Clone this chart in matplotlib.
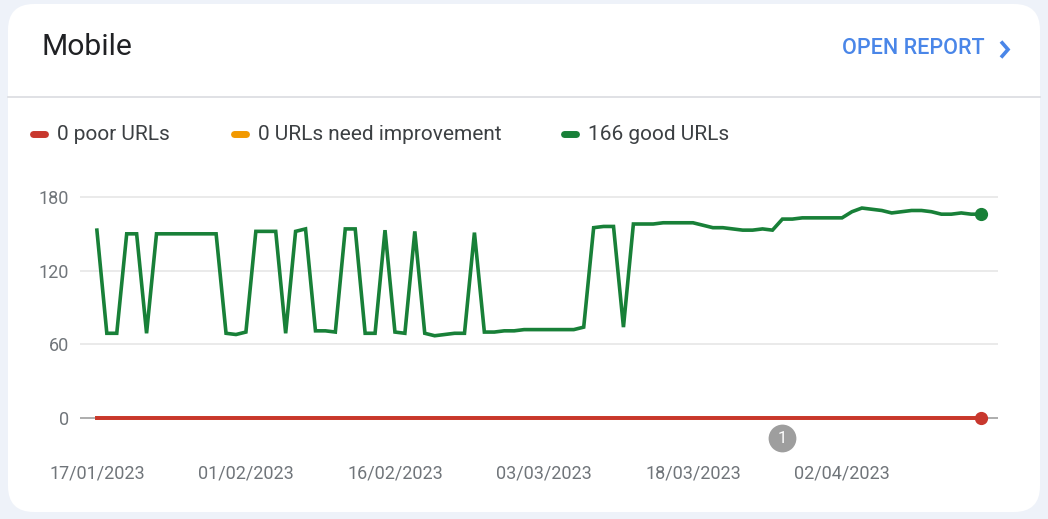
import matplotlib
matplotlib.use("Agg")
import matplotlib.pyplot as plt
import matplotlib.transforms as mtransforms
from matplotlib.patches import FancyBboxPatch
import pandas as pd

# Data (one value per day from 17/01/2023)
start_date = "2023-01-17"
good_urls = [153, 69, 69, 150, 150, 69, 150, 150, 150, 150,
             150, 150, 150, 69, 68, 70, 152, 152, 152, 69,
             152, 154, 71, 71, 70, 154, 154, 69, 69, 153,
             70, 69, 152, 69, 67, 68, 69, 69, 151, 70,
             70, 71, 71, 72, 72, 72, 72, 72, 72, 74,
             155, 156, 156, 74, 158, 158, 158, 159, 159, 159,
             159, 157, 155, 155, 154, 153, 153, 154, 153, 162,
             162, 163, 163, 163, 163, 163, 168, 171, 170, 169,
             167, 168, 169, 169, 168, 166, 166, 167, 166, 166]
poor_urls = [0] * len(good_urls)
need_improvement_urls = [0] * len(good_urls)
dates = pd.date_range(start_date, periods=len(good_urls), freq="D")

tick_dates = ["2023-01-17", "2023-02-01", "2023-02-16", "2023-03-03", "2023-03-18", "2023-04-02"]
tick_labels = ["17/01/2023", "01/02/2023", "16/02/2023", "03/03/2023", "18/03/2023", "02/04/2023"]
annotation_dates = ["2023-03-27"]
annotation_labels = ["1"]

legend_labels = ["0 poor URLs", "0 URLs need improvement", "166 good URLs"]

RED = "#c8372d"
ORANGE = "#f29900"
GREEN = "#188038"
BLUE = "#4a86e8"
GREY_TXT = "#70757a"

plt.rcParams["font.family"] = ["Roboto", "DejaVu Sans"]

W, H = 1048, 519
fig = plt.figure(figsize=(W / 100, H / 100), dpi=100)
fig.patch.set_facecolor("#eef2f9")

# background axes in pixel coordinates (card, header, legend)
bg = fig.add_axes([0, 0, 1, 1], zorder=0)
bg.set_xlim(0, W)
bg.set_ylim(H, 0)
bg.axis("off")
card = FancyBboxPatch((8, 4), 1032, 508, boxstyle="round,pad=0,rounding_size=26",
                      facecolor="white", edgecolor="none")
bg.add_patch(card)
bg.plot([8, 1040], [97, 97], color="#dadce0", lw=1.2)
bg.text(42, 47, "Mobile", fontsize=21.7, color="#202124", va="center", ha="left")
bg.text(842, 49, "OPEN REPORT", fontsize=15.5, color=BLUE, va="center", ha="left",
        fontweight="medium")
bg.plot([1001, 1008, 1001], [41.5, 49.5, 57.5], color=BLUE, lw=2.6,
        solid_joinstyle="miter", solid_capstyle="butt")

legend_x = [30, 231, 561]
legend_colors = [RED, ORANGE, GREEN]
for lx, lc, lt in zip(legend_x, legend_colors, legend_labels):
    bg.plot([lx + 3, lx + 15], [134, 134], color=lc, lw=5, solid_capstyle="round")
    bg.text(lx + 27, 134, lt, fontsize=15, color="#3c4043", va="center", ha="left")

# chart axes
left, right, top, bottom = 80, 998, 193.3, 421.7
ax = fig.add_axes([left / W, 1 - bottom / H, (right - left) / W, (bottom - top) / H], zorder=1)
ax.patch.set_alpha(0)
for s in ax.spines.values():
    s.set_visible(False)

x0 = pd.Timestamp(start_date)
ax.set_xlim(x0 - pd.Timedelta(days=1.7), x0 + pd.Timedelta(days=90.7))
ax.set_ylim(-3, 183)

for yv in [60, 120, 180]:
    ax.axhline(yv, color="#e6e6e6", lw=1.2, zorder=0)
ax.axhline(0, color="#a0a0a0", lw=1.2, zorder=0)

ax.plot(dates, need_improvement_urls, color=ORANGE, lw=2.8, zorder=2)
ax.plot(dates, poor_urls, color=RED, lw=2.8, zorder=3)
ax.plot(dates, good_urls, color=GREEN, lw=2.6, zorder=3, solid_joinstyle="miter")
ax.plot(dates[-1], good_urls[-1], "o", color=GREEN, ms=8.5, zorder=4, clip_on=False)
ax.plot(dates[-1], poor_urls[-1], "o", color=RED, ms=8.5, zorder=4, clip_on=False)

ann_trans = mtransforms.offset_copy(ax.transData, fig=fig, y=-20, units="dots")
for ad, al in zip(annotation_dates, annotation_labels):
    d = pd.Timestamp(ad)
    ax.plot(d, 0, "o", color="#9e9e9e", ms=20, mec="none", transform=ann_trans, clip_on=False)
    ax.text(d, 0, al, color="white", fontsize=12, ha="center", va="center",
            transform=ann_trans)

ax.set_yticks([0, 60, 120, 180])
ax.set_yticklabels(["0", "60", "120", "180"])
ax.set_xticks(pd.to_datetime(tick_dates))
ax.set_xticklabels(tick_labels)
ax.tick_params(axis="y", length=0, pad=8, labelsize=13, labelcolor=GREY_TXT)
ax.tick_params(axis="x", length=0, pad=31, labelsize=13, labelcolor=GREY_TXT)

fig.savefig("out.png", dpi=100, facecolor=fig.get_facecolor())
